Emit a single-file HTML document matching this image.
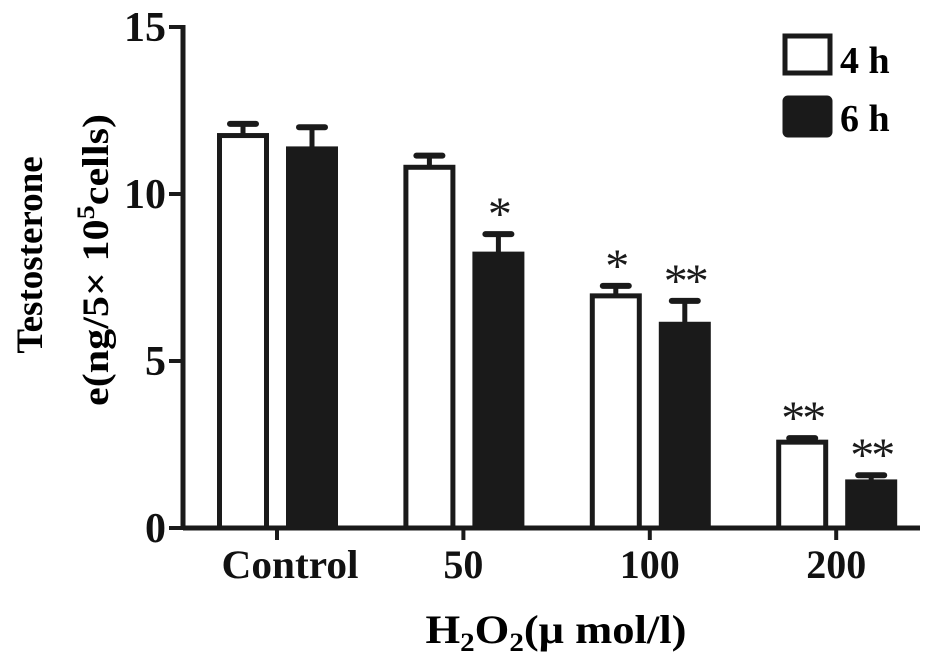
<!DOCTYPE html>
<html><head><meta charset="utf-8"><style>
body{margin:0;background:#fff;}
svg{display:block;font-family:"Liberation Serif",serif;font-weight:bold;}
</style></head><body>
<svg id="chart" width="945" height="664">
<g id="plot"></g>
<g>
<rect x="785" y="36" width="45" height="37" fill="#fff" stroke="#1a1a1a" stroke-width="5"/>
<text x="840" y="73" font-size="38">4 h</text>
<rect x="785" y="98" width="45" height="37" fill="#1a1a1a" stroke="#1a1a1a" stroke-width="5" rx="3"/>
<text x="840" y="131" font-size="38">6 h</text>
</g>
<g transform="translate(42,255) rotate(-90)">
<text x="0" y="0" text-anchor="middle" font-size="37">Testosterone</text>
<text x="-5" y="66" text-anchor="middle" font-size="37" textLength="292" lengthAdjust="spacingAndGlyphs">e(ng/5× 10<tspan dy="-14" font-size="25">5</tspan><tspan dy="14">cells)</tspan></text>
</g>
<text x="556" y="643" text-anchor="middle" font-size="40" textLength="261" lengthAdjust="spacingAndGlyphs">H<tspan font-size="26" dy="8">2</tspan><tspan dy="-8">O</tspan><tspan font-size="26" dy="8">2</tspan><tspan dy="-8">(μ mol/l)</tspan></text>
</svg>
<script>
const categories=["Control","50","100","200"];
const values4h=[11.75,10.8,6.95,2.57];
const err4h=[0.35,0.35,0.3,0.12];
const values6h=[11.35,8.2,6.1,1.38];
const err6h=[0.65,0.6,0.7,0.2];
const sig4h=["","","*","**"];
const sig6h=["","*","**","**"];
const yTicks=[0,5,10,15];
const NS="http://www.w3.org/2000/svg";
const y0=528,y15=27;
function yScale(v){return y0-(y0-y15)*v/15;}
function xScale(i){return 277+i*186.4;}
const plot=document.getElementById('plot');
function mk(tag,attrs){const e=document.createElementNS(NS,tag);for(const k in attrs)e.setAttribute(k,attrs[k]);plot.appendChild(e);return e;}
const bw=47;
categories.forEach((c,i)=>{
  [[values4h,err4h,sig4h,-34,'#fff','4h'],[values6h,err6h,sig6h,35,'#1a1a1a','6h']].forEach(([vals,errs,sigs,off,fill,nm])=>{
    const cx=xScale(i)+off, top=yScale(vals[i]), et=yScale(vals[i]+errs[i]);
    let l=mk('line',{x1:cx,x2:cx,y1:top,y2:et,stroke:'#1a1a1a','stroke-width':5});
    
    
    let cap=mk('line',{x1:cx-13,x2:cx+13,y1:et,y2:et,stroke:'#1a1a1a','stroke-width':6,'stroke-linecap':'round'});
    
    
    let r=mk('rect',{x:cx-bw/2,y:top,width:bw,height:y0-top,fill:fill,stroke:'#1a1a1a','stroke-width':5});
    
    
    if(sigs[i]){
      let t=mk('text',{x:cx,y:et-4,'text-anchor':'middle','font-size':48,'font-weight':'normal',fill:'#1a1a1a','letter-spacing':'-3'});
      t.textContent=sigs[i];
      
      
    }
  });
  let tk=mk('line',{x1:xScale(i),x2:xScale(i),y1:y0,y2:y0+12,stroke:'#1a1a1a','stroke-width':4});
  
  
  let tl=mk('text',{x:xScale(i)+(i===0?13:0),y:578,'text-anchor':'middle','font-size':40,fill:'#111'});
  tl.textContent=c;
  if(c==='Control'){tl.setAttribute('textLength','137');tl.setAttribute('lengthAdjust','spacingAndGlyphs');}
  
  
});
let ax=mk('line',{x1:183,x2:920,y1:y0,y2:y0,stroke:'#1a1a1a','stroke-width':5});


let ay=mk('line',{x1:183,x2:183,y1:y15-2,y2:y0+2,stroke:'#1a1a1a','stroke-width':5});


yTicks.forEach(v=>{
  let t=mk('line',{x1:169,x2:183,y1:yScale(v),y2:yScale(v),stroke:'#1a1a1a','stroke-width':4});
  
  
  let l=mk('text',{x:166,y:yScale(v)+14,'text-anchor':'end','font-size':42,fill:'#111'});
  l.textContent=v;
  
  
});
</script>
</body></html>
